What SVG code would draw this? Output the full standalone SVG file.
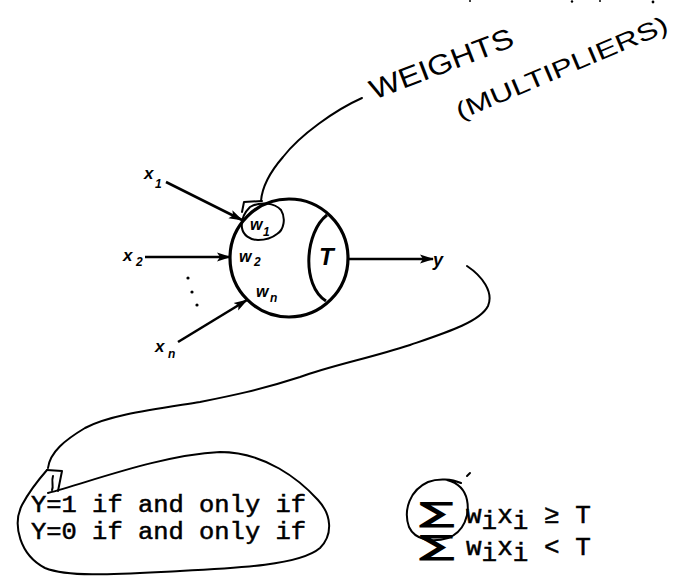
<svg xmlns="http://www.w3.org/2000/svg" width="675" height="578" viewBox="0 0 675 578">
<style>
.lbl{font-family:"Liberation Sans",Arial,sans-serif;font-style:italic;font-weight:bold;fill:#000}
.sub{font-size:12px}
.hand{fill:none;stroke:#000;stroke-width:2;stroke-linecap:round;stroke-linejoin:round}
.arr{fill:none;stroke:#000;stroke-width:2.6}
.mono{font-family:"Liberation Mono","Courier New",monospace;fill:#000;stroke:#000;stroke-width:0.5}
.script{font-family:"Liberation Sans",Arial,sans-serif;fill:#000}
.sig{font-family:"DejaVu Sans",sans-serif;font-weight:bold;font-size:30px;fill:#000}
</style>
<defs>
<marker id="ah" markerWidth="14" markerHeight="10" refX="13" refY="5" orient="auto" markerUnits="userSpaceOnUse">
<path d="M0,0.5 L14,5 L0,9.5 L3,5 Z" fill="#000"/>
</marker>
</defs>
<rect width="675" height="578" fill="#fff"/>

<g id="neuron">
<circle cx="289" cy="258" r="59" fill="none" stroke="#000" stroke-width="3.2"/>
<path d="M327,215 C305,232 301,285 326,301" fill="none" stroke="#000" stroke-width="3"/>
<text class="lbl" x="319" y="265" font-size="24">T</text>
<text class="lbl" x="250" y="230" font-size="16">w</text><text class="lbl sub" x="263" y="236">1</text>
<text class="lbl" x="239" y="262" font-size="16">w</text><text class="lbl sub" x="254" y="266">2</text>
<text class="lbl" x="256" y="297" font-size="16">w</text><text class="lbl sub" x="270" y="302">n</text>
</g>

<g id="inputs">
<text class="lbl" x="144" y="179" font-size="17">x</text><text class="lbl sub" x="155" y="188">1</text>
<text class="lbl" x="123" y="261" font-size="17">x</text><text class="lbl sub" x="136" y="266">2</text>
<text class="lbl" x="155" y="352" font-size="17">x</text><text class="lbl sub" x="168" y="358">n</text>
<circle cx="188" cy="278" r="1.6"/>
<circle cx="192" cy="292" r="1.6"/>
<circle cx="197" cy="305" r="1.6"/>
</g>

<g id="output">
<text class="lbl" x="433" y="266" font-size="18">y</text>
</g>

<g id="connectors">
<line class="arr" x1="166" y1="182" x2="242" y2="220" marker-end="url(#ah)"/>
<line class="arr" x1="145" y1="257" x2="230" y2="257" marker-end="url(#ah)"/>
<line class="arr" x1="178" y1="342" x2="247" y2="300" marker-end="url(#ah)"/>
<line class="arr" x1="348" y1="259" x2="433" y2="259" marker-end="url(#ah)"/>
<path class="hand" d="M362,98 C335,110 300,135 283,157 C270,172 262,188 261,201"/>
<path class="hand" d="M262,201 L244,202 L242,212"/>
<path class="hand" d="M250,207 C260,201 275,203 281,210 C286,218 284,230 277,234 C272,238 265,240 258,240 C250,240 243,235 242,228 C241,221 244,213 250,207"/>
<path class="hand" d="M467,266 C482,276 494,292 488,306 C480,322 445,333 410,345 C370,358 330,366 300,377 C260,390 230,396 200,402 C150,410 110,415 85,428 C65,440 50,452 48,468"/>
<path class="hand" d="M47,470 L62,471 L58,491 M53,476 C51,482 54,486 52,490"/>
<path class="hand" d="M48,493 C90,482 160,455 220,452 C265,452 300,480 318,500 C332,515 333,535 320,548 C300,565 240,568 180,571 C120,574 70,578 45,568 C20,555 12,525 22,505 C30,490 40,478 47,470"/>
<path class="hand" d="M461,483 C452,479 438,478 428,482 C410,490 403,510 409,527 C415,540 432,543 448,538 C464,532 470,515 467,500 C465,490 458,483 447,480"/>
<path class="hand" d="M467,476 L470,473"/>
<g fill="#000"><circle cx="470" cy="1" r="1"/><circle cx="572" cy="1.5" r="1.2"/><circle cx="600" cy="1" r="1"/><circle cx="653" cy="2" r="1.4"/></g>
</g>

<g id="weights-note">
<text class="script" font-size="28" transform="translate(374,100) rotate(-21)" textLength="152" lengthAdjust="spacingAndGlyphs">WEIGHTS</text>
<text class="script" font-size="24" transform="translate(460,120) rotate(-23)" textLength="228" lengthAdjust="spacingAndGlyphs">(MULTIPLIERS)</text>
</g>

<g id="condition">
<text class="mono" font-size="23" x="31" y="512" textLength="275" lengthAdjust="spacingAndGlyphs">Y=1 if and only if</text>
<text class="mono" font-size="23" x="31" y="538.5" textLength="275" lengthAdjust="spacingAndGlyphs">Y=0 if and only if</text>
</g>

<g id="formula">
<text class="sig" transform="translate(418,522) scale(1.7,0.93)">∑</text>
<text class="sig" transform="translate(418,555) scale(1.7,0.93)">∑</text>
<text class="mono" font-size="26" x="466" y="523">w<tspan dy="6">i</tspan><tspan dy="-6">x</tspan><tspan dy="6">i</tspan><tspan dy="-6"> ≥ T</tspan></text>
<text class="mono" font-size="26" x="466" y="555">w<tspan dy="6">i</tspan><tspan dy="-6">x</tspan><tspan dy="6">i</tspan><tspan dy="-6"> &lt; T</tspan></text>
</g>
</svg>
